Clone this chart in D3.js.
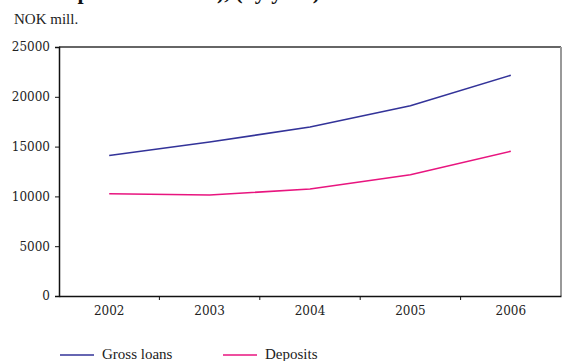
<!DOCTYPE html>
<html>
<head>
<meta charset="utf-8">
<script src="https://cdn.jsdelivr.net/npm/d3@7"></script>
<style>
  html, body { margin: 0; padding: 0; background: #fff; }
  svg { display: block; }
  text { font-family: "DejaVu Serif", "Liberation Serif", serif; fill: #222; }
</style>
</head>
<body>
<svg id="chart" width="568" height="361"></svg>
<script>
const years = ["2002", "2003", "2004", "2005", "2006"];
const grossLoans = [14100, 15460, 16970, 19100, 22160];
const deposits = [10270, 10140, 10740, 12180, 14530];
const yTicks = [0, 5000, 10000, 15000, 20000, 25000];
const seriesNames = ["Gross loans", "Deposits"];
const seriesColors = ["#333399", "#e8157f"];

const svg = d3.select("#chart");
const m = { left: 59, right: 561, top: 47, bottom: 296 };

const x = d3.scaleBand().domain(years).range([m.left, m.right]);
const y = d3.scaleLinear().domain([0, 25000]).range([m.bottom, m.top]);

// Title (cropped at top in the reference; only descenders visible)
svg.append("text")
  .attr("x", 14).attr("y", -1)
  .style("font-family", "'Liberation Serif', serif")
  .style("font-weight", "bold")
  .style("font-size", "22px")
  .style("fill", "#111")
  .text("Development in NOK), (by year)");

svg.append("text")
  .attr("x", 14).attr("y", 24)
  .style("font-size", "15px")
  .style("font-family", "'Liberation Serif', serif")
  .text("NOK mill.");

// Frame top and right
svg.append("line")
  .attr("x1", m.left).attr("x2", m.right)
  .attr("y1", m.top).attr("y2", m.top)
  .attr("stroke", "#333").attr("stroke-width", 1.5);
svg.append("line")
  .attr("x1", m.right).attr("x2", m.right)
  .attr("y1", m.top).attr("y2", m.bottom)
  .attr("stroke", "#999").attr("stroke-width", 2);

// Y axis
const yAxis = svg.append("g")
  .attr("transform", `translate(${m.left},0)`)
  .call(d3.axisLeft(y).tickValues(yTicks).tickSize(4).tickPadding(5).tickFormat(d3.format("d")));
yAxis.select(".domain").attr("stroke", "#111").attr("stroke-width", 1.5);
yAxis.selectAll(".tick line").attr("stroke", "#111");
yAxis.selectAll("text")
  .style("font-size", "12px")
  .style("font-family", "'DejaVu Serif', serif")
  .attr("fill", "#222");

// X axis
const xAxis = svg.append("g")
  .attr("transform", `translate(0,${m.bottom})`)
  .call(d3.axisBottom(x).tickSize(0).tickPadding(10));
xAxis.select(".domain").attr("stroke", "#111").attr("stroke-width", 1.5);
xAxis.selectAll("text")
  .style("font-size", "12px")
  .style("font-family", "'DejaVu Serif', serif")
  .attr("fill", "#222");
// boundary ticks between categories
const bounds = years.slice(1).map(d => x(d));
xAxis.selectAll(".btick").data(bounds).enter().append("line")
  .attr("class", "btick")
  .attr("x1", d => d).attr("x2", d => d)
  .attr("y1", 0).attr("y2", 4)
  .attr("stroke", "#111");

// Lines
const line = d3.line()
  .x((d, i) => x(years[i]) + x.bandwidth() / 2)
  .y(d => y(d));
[grossLoans, deposits].forEach((s, i) => {
  svg.append("path")
    .datum(s)
    .attr("fill", "none")
    .attr("stroke", seriesColors[i])
    .attr("stroke-width", 1.6)
    .attr("d", line);
});

// Legend
const legX = [60, 223];
seriesNames.forEach((name, i) => {
  svg.append("line")
    .attr("x1", legX[i]).attr("x2", legX[i] + 34)
    .attr("y1", 355).attr("y2", 355)
    .attr("stroke", seriesColors[i]).attr("stroke-width", 1.6);
  svg.append("text")
    .attr("x", legX[i] + 42).attr("y", 359)
    .style("font-size", "15px")
    .style("font-family", "'Liberation Serif', serif")
    .text(name);
});
</script>
</body>
</html>
